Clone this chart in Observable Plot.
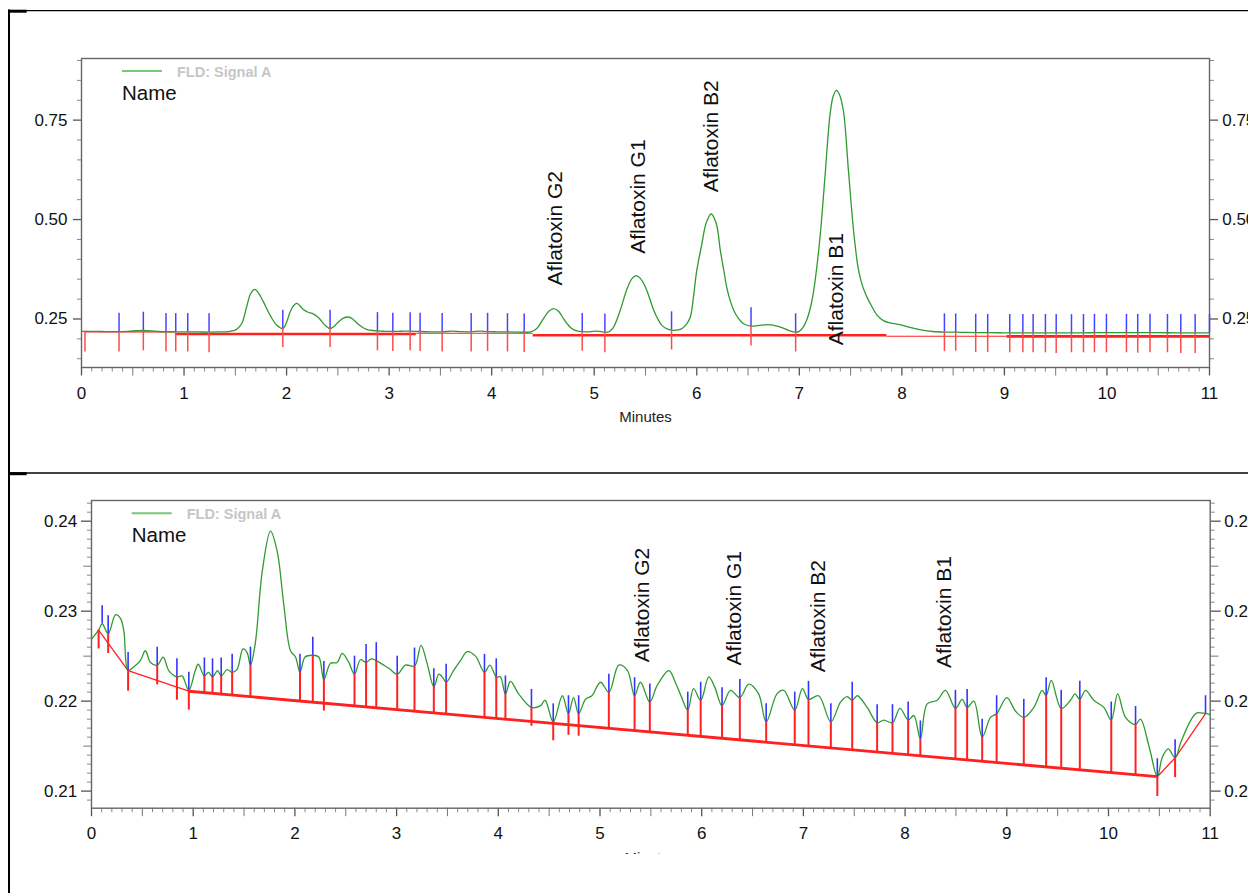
<!DOCTYPE html>
<html><head><meta charset="utf-8">
<script src="https://cdn.jsdelivr.net/npm/d3@7"></script>
<script src="https://cdn.jsdelivr.net/npm/@observablehq/plot@0.6"></script>
<style>
html,body{margin:0;padding:0;background:#fff;overflow:hidden;}
#wrap{position:relative;width:1248px;height:893px;overflow:hidden;background:#fff;font-family:"Liberation Sans",Arial,sans-serif;}
#top,#bot{position:absolute;left:0;}
#top{top:0;}
#bot{top:460px;height:394px;overflow:hidden;}
#wrap svg{max-width:none !important;}
#top svg{overflow:visible;}
#deco{position:absolute;left:0;top:0;pointer-events:none;}
</style></head>
<body><div id="wrap"><div id="top"></div><div id="bot"></div><svg id="deco" width="1248" height="893"></svg></div>
<script>
// ---------------- DATA ----------------
const peakNames = ["Aflatoxin G2", "Aflatoxin G1", "Aflatoxin B2", "Aflatoxin B1"];
const topLabelT = [4.62, 5.425, 6.14, 7.364];
const topLabelV = [0.3345, 0.414, 0.5685, 0.184];
const botLabelT = [5.42, 6.316, 7.146, 8.387];
const botLabelV = [0.22433, 0.22397, 0.22322, 0.22367];

// Top chromatogram (standard)
const topTime = [0.00,0.10,0.20,0.30,0.366,0.45,0.55,0.603,0.68,0.75,0.824,0.919,1.036,1.14,1.244,1.35,1.43,1.48,1.514,1.563,1.61,1.65,1.69,1.73,1.774,1.84,1.905,1.963,2.00,2.034,2.07,2.10,2.164,2.21,2.25,2.31,2.376,2.424,2.465,2.505,2.55,2.60,2.645,2.685,2.73,2.78,2.886,2.96,3.036,3.12,3.205,3.302,3.40,3.517,3.61,3.70,3.80,3.89,3.96,4.05,4.154,4.24,4.317,4.38,4.44,4.505,4.56,4.603,4.65,4.70,4.74,4.78,4.83,4.883,4.95,5.03,5.104,5.15,5.19,5.254,5.32,5.37,5.41,5.45,5.50,5.54,5.58,5.62,5.66,5.71,5.754,5.80,5.85,5.90,5.937,5.97,6.00,6.05,6.09,6.14,6.19,6.23,6.265,6.295,6.33,6.36,6.40,6.457,6.529,6.60,6.70,6.80,6.90,6.964,7.00,7.04,7.07,7.10,7.13,7.16,7.205,7.25,7.30,7.33,7.36,7.39,7.43,7.48,7.53,7.576,7.62,7.66,7.71,7.76,7.82,7.89,7.98,8.05,8.11,8.20,8.30,8.415,8.525,8.62,8.72,8.837,8.95,9.052,9.18,9.28,9.40,9.505,9.654,9.771,9.878,9.995,10.19,10.30,10.42,10.59,10.72,10.86,11.00];
const topSignal = [0.2190,0.2188,0.2185,0.2183,0.2182,0.2190,0.2205,0.2210,0.2200,0.2185,0.2177,0.2176,0.2176,0.2174,0.2172,0.2174,0.2182,0.2205,0.2240,0.2385,0.2800,0.3140,0.3245,0.3140,0.2930,0.2590,0.2340,0.2260,0.2420,0.2676,0.2840,0.2890,0.2740,0.2670,0.2640,0.2535,0.2340,0.2260,0.2320,0.2425,0.2515,0.2550,0.2500,0.2400,0.2310,0.2240,0.2200,0.2190,0.2186,0.2192,0.2195,0.2185,0.2178,0.2176,0.2195,0.2180,0.2177,0.2195,0.2182,0.2178,0.2174,0.2170,0.2166,0.2176,0.2260,0.2510,0.2700,0.2760,0.2700,0.2510,0.2370,0.2260,0.2200,0.2180,0.2178,0.2195,0.2165,0.2185,0.2300,0.2720,0.3260,0.3520,0.3590,0.3520,0.3300,0.3020,0.2720,0.2500,0.2340,0.2250,0.2220,0.2218,0.2250,0.2370,0.2550,0.3100,0.3720,0.4390,0.4900,0.5140,0.4900,0.4220,0.3700,0.3260,0.2930,0.2720,0.2540,0.2380,0.2320,0.2335,0.2360,0.2310,0.2210,0.2170,0.2190,0.2300,0.2460,0.2700,0.3050,0.3580,0.4640,0.6070,0.7650,0.8100,0.8250,0.8150,0.7730,0.6200,0.4700,0.3750,0.3300,0.3050,0.2800,0.2590,0.2460,0.2400,0.2360,0.2310,0.2270,0.2220,0.2185,0.2170,0.2168,0.2162,0.2158,0.2155,0.2154,0.2152,0.2152,0.2153,0.2152,0.2150,0.2150,0.2152,0.2156,0.2157,0.2156,0.2155,0.2157,0.2154,0.2152,0.2152,0.2152];
// peak delimiters (blue up, red down)
const topBlueT = [0.366,0.603,0.824,0.919,1.036,1.244,1.963,2.424,2.886,3.036,3.205,3.302,3.517,3.80,3.96,4.154,4.317,4.883,5.104,5.754,6.529,6.964,8.415,8.525,8.72,8.837,9.052,9.18,9.28,9.40,9.505,9.654,9.771,9.878,9.995,10.19,10.30,10.42,10.59,10.72,10.86,11.0];
const topBlueV = [0.2182,0.2210,0.2177,0.2176,0.2176,0.2172,0.2260,0.2260,0.2200,0.2186,0.2195,0.2185,0.2176,0.2177,0.2182,0.2174,0.2166,0.2180,0.2165,0.2220,0.2320,0.2170,0.2170,0.2168,0.2158,0.2155,0.2152,0.2152,0.2153,0.2152,0.2150,0.2150,0.2152,0.2156,0.2157,0.2156,0.2155,0.2157,0.2154,0.2152,0.2152,0.2152];
const topRedT = [0.034,0.366,0.603,0.824,0.919,1.036,1.244,1.963,2.424,2.886,3.036,3.205,3.302,3.517,3.80,3.96,4.154,4.317,4.883,5.104,5.754,6.529,6.964,8.415,8.525,8.72,8.837,9.052,9.18,9.28,9.40,9.505,9.654,9.771,9.878,9.995,10.19,10.30,10.42,10.59,10.72,10.86];
const topRedV = [0.2190,0.2182,0.2210,0.2177,0.2176,0.2176,0.2172,0.2260,0.2260,0.2200,0.2186,0.2195,0.2185,0.2176,0.2177,0.2182,0.2174,0.2166,0.2180,0.2165,0.2220,0.2320,0.2170,0.2170,0.2168,0.2158,0.2155,0.2152,0.2152,0.2153,0.2152,0.2150,0.2150,0.2152,0.2156,0.2157,0.2156,0.2155,0.2157,0.2154,0.2152,0.2152];
const topRedEnd = [0.167,0.167,0.170,0.167,0.167,0.167,0.165,0.178,0.178,0.170,0.168,0.170,0.168,0.167,0.167,0.168,0.167,0.166,0.169,0.165,0.172,0.182,0.167,0.168,0.169,0.166,0.166,0.165,0.165,0.165,0.165,0.163,0.165,0.165,0.165,0.165,0.165,0.164,0.165,0.165,0.163,0.163];
// baseline segments
const topBaseT1 = [0.034, 0.91, 3.26, 4.40, 7.85, 9.02];
const topBaseT2 = [0.91, 3.26, 4.40, 7.85, 9.02, 11.0];
const topBaseV  = [0.2174, 0.2124, 0.2141, 0.2091, 0.2066, 0.2062];

// Bottom chromatogram (blank, zoomed)
const botTime = [0.00,0.07,0.105,0.164,0.236,0.285,0.318,0.36,0.415,0.48,0.53,0.58,0.646,0.705,0.76,0.84,0.89,0.957,1.02,1.05,1.11,1.15,1.19,1.24,1.275,1.334,1.383,1.43,1.49,1.53,1.563,1.61,1.68,1.76,1.825,1.89,1.957,2.006,2.05,2.10,2.176,2.235,2.285,2.35,2.416,2.465,2.53,2.586,2.645,2.70,2.75,2.80,2.874,2.93,3.006,3.087,3.176,3.24,3.30,3.366,3.415,3.448,3.487,3.56,3.628,3.694,3.776,3.864,3.917,3.98,4.02,4.07,4.12,4.20,4.326,4.415,4.46,4.54,4.63,4.69,4.74,4.79,4.857,4.92,5.005,5.087,5.185,5.27,5.34,5.398,5.49,5.56,5.677,5.74,5.80,5.863,5.92,5.99,6.07,6.13,6.20,6.283,6.375,6.463,6.56,6.634,6.74,6.807,6.915,6.99,7.05,7.15,7.27,7.365,7.43,7.48,7.53,7.627,7.725,7.79,7.876,7.95,8.03,8.086,8.15,8.217,8.316,8.397,8.495,8.561,8.61,8.676,8.758,8.84,8.90,9.00,9.085,9.167,9.266,9.348,9.387,9.437,9.535,9.626,9.67,9.718,9.774,9.856,9.954,10.027,10.09,10.167,10.266,10.314,10.40,10.48,10.53,10.587,10.655,10.71,10.81,10.87,10.954,11.0];
const botSignal = [0.2269,0.2279,0.2286,0.2275,0.2296,0.2292,0.2278,0.2234,0.2238,0.2245,0.2256,0.2243,0.2240,0.2249,0.2234,0.2227,0.2228,0.2212,0.2234,0.2241,0.2228,0.2232,0.2227,0.2234,0.2228,0.2235,0.2232,0.2235,0.2258,0.2254,0.2240,0.2264,0.2345,0.2389,0.2367,0.2308,0.2256,0.2249,0.2232,0.2249,0.2251,0.2249,0.2224,0.2242,0.2243,0.2253,0.2243,0.2230,0.2246,0.2243,0.2247,0.2245,0.2240,0.2236,0.2230,0.2240,0.2239,0.2262,0.2242,0.2216,0.2230,0.2227,0.2221,0.2234,0.2245,0.2255,0.2250,0.2232,0.2240,0.2227,0.2227,0.2208,0.2222,0.2208,0.2193,0.2195,0.2201,0.2177,0.2206,0.2186,0.2204,0.2186,0.2202,0.2206,0.2221,0.2210,0.2240,0.2234,0.2206,0.2221,0.2199,0.2217,0.2234,0.2221,0.2205,0.2190,0.2214,0.2201,0.2227,0.2215,0.2195,0.2212,0.2204,0.2219,0.2208,0.2177,0.2208,0.2212,0.2190,0.2214,0.2202,0.2206,0.2177,0.2199,0.2205,0.2201,0.2206,0.2193,0.2176,0.2179,0.2176,0.2192,0.2179,0.2184,0.2158,0.2197,0.2201,0.2212,0.2192,0.2202,0.2193,0.2200,0.2160,0.2182,0.2186,0.2204,0.2189,0.2182,0.2193,0.2212,0.2206,0.2223,0.2192,0.2201,0.2208,0.2202,0.2212,0.2201,0.2193,0.2179,0.2208,0.2182,0.2174,0.2180,0.2149,0.2116,0.2138,0.2147,0.2137,0.2154,0.2179,0.2187,0.2186,0.2185];
const botBlueT = [0.105,0.164,0.36,0.646,0.84,0.957,1.11,1.19,1.275,1.383,1.563,2.05,2.176,2.285,2.586,2.70,2.80,3.006,3.176,3.366,3.487,3.864,3.98,4.07,4.326,4.54,4.69,4.79,5.087,5.34,5.49,5.863,5.99,6.20,6.375,6.634,6.915,7.05,7.27,7.48,7.725,7.876,8.03,8.15,8.495,8.61,8.758,8.90,9.167,9.387,9.535,9.718,10.027,10.266,10.48,10.655,10.954];
const botBlueV = [0.2286,0.2275,0.2234,0.2240,0.2227,0.2212,0.2228,0.2227,0.2228,0.2232,0.2240,0.2232,0.2251,0.2224,0.2230,0.2243,0.2245,0.2230,0.2239,0.2216,0.2221,0.2232,0.2227,0.2208,0.2193,0.2177,0.2186,0.2186,0.2210,0.2206,0.2199,0.2190,0.2201,0.2195,0.2204,0.2177,0.2190,0.2202,0.2177,0.2201,0.2176,0.2176,0.2179,0.2158,0.2192,0.2193,0.2160,0.2186,0.2182,0.2206,0.2192,0.2202,0.2179,0.2174,0.2116,0.2137,0.2186];
const botRedT = [0.07,0.164,0.36,0.646,0.84,0.957,1.11,1.19,1.275,1.383,1.563,2.05,2.176,2.285,2.586,2.70,2.80,3.006,3.176,3.366,3.487,3.864,3.98,4.07,4.326,4.54,4.69,4.79,5.087,5.34,5.49,5.863,5.99,6.20,6.375,6.634,6.915,7.05,7.27,7.48,7.725,7.876,8.03,8.15,8.495,8.61,8.758,8.90,9.167,9.387,9.535,9.718,10.027,10.266,10.48,10.655];
const botRedV = [0.2279,0.2275,0.2234,0.2240,0.2227,0.2212,0.2228,0.2227,0.2228,0.2232,0.2240,0.2232,0.2251,0.2224,0.2230,0.2243,0.2245,0.2230,0.2239,0.2216,0.2221,0.2232,0.2227,0.2208,0.2193,0.2177,0.2186,0.2186,0.2210,0.2206,0.2199,0.2190,0.2201,0.2195,0.2204,0.2177,0.2190,0.2202,0.2177,0.2201,0.2176,0.2176,0.2179,0.2158,0.2192,0.2193,0.2160,0.2186,0.2182,0.2206,0.2192,0.2202,0.2179,0.2174,0.2116,0.2137];
// red drop end (null = on the baseline)
const botRedEnd = [0.2258,0.2253,0.2211,0.2218,0.2201,0.2190,null,null,null,null,null,null,null,0.2189,null,null,null,null,null,null,null,null,null,null,0.2172,0.2156,0.2162,0.2161,null,null,null,null,null,null,null,null,null,null,null,null,null,null,null,null,null,null,null,null,null,null,null,null,null,null,0.2094,0.2115];
const botBaseT = [0.07, 0.36, 0.957, 10.48, 10.655, 10.954];
const botBaseV = [0.2279, 0.2234, 0.2211, 0.2116, 0.2137, 0.2186];

const xMajor = d3.range(0, 12);
const xHalf = d3.range(0, 11).map(i => i + 0.5);
const xMinor = d3.range(0, 111).filter(i => i % 5 !== 0).map(i => i / 10);
const topYMajor = [0.25, 0.50, 0.75];
const topYMinor = [0.15, 0.20, 0.30, 0.35, 0.40, 0.45, 0.55, 0.60, 0.65, 0.70, 0.80, 0.85, 0.90];
const botYMajor = [0.21, 0.22, 0.23, 0.24];
const botYHalf = [0.215, 0.225, 0.235];
const botYMinor = d3.range(209, 243).filter(i => i % 5 !== 0).map(i => i / 1000);

// ---------------- DRAW ----------------
const FONT = "Liberation Sans, Arial, sans-serif";
const GREEN = "#2f9a2f", BLUE = "#3434ff", RED = "#ff2020", AX = "#555";
const zip = (a, b) => a.map((t, i) => ({t, v: b[i]}));

function xAxes(minutes) {
  return [
    Plot.axisX({anchor: "bottom", ticks: xMajor, tickSize: 8.5, tickPadding: 10.5, tickFormat: d3.format("d"), fontSize: 17, stroke: AX, strokeWidth: 1.3, label: null}),
    Plot.axisX({anchor: "bottom", ticks: xHalf, tickSize: 8.5, fill: "none", stroke: "#777", label: null}),
    Plot.axisX({anchor: "bottom", ticks: xMinor, tickSize: 4.5, fill: "none", stroke: "#888", label: null}),
    Plot.text([minutes], {frameAnchor: "bottom", dy: 44, lineAnchor: "top", fontSize: 15, fill: "#222"})
  ];
}

function yAxes(major, half, minor, majLen, halfLen, padL, padR, fmt) {
  const out = [];
  for (const anchor of ["left", "right"]) {
    out.push(Plot.axisY({anchor, ticks: major, tickSize: majLen, tickPadding: anchor === "left" ? padL : padR, tickFormat: fmt, fontSize: 17, stroke: AX, strokeWidth: 1.3, label: null}));
    if (half.length) out.push(Plot.axisY({anchor, ticks: half, tickSize: halfLen, fill: "none", stroke: "#777", label: null}));
    out.push(Plot.axisY({anchor, ticks: minor, tickSize: 4, fill: "none", stroke: "#888", label: null}));
  }
  return out;
}

// top chart
const topSig = zip(topTime, topSignal);
const topBlue = zip(topBlueT, topBlueV);
const topRed = topRedT.map((t, i) => ({t, v: topRedV[i], e: topRedEnd[i]}));
const topBase = topBaseT1.map((t, i) => ({t1: t, t2: topBaseT2[i], v: topBaseV[i], thick: i % 2 === 1}));
const topLabels = peakNames.map((n, i) => ({n, t: topLabelT[i], v: topLabelV[i]}));

const topPlot = Plot.plot({
  width: 1300, height: 427,
  marginLeft: 81, marginRight: 91, marginTop: 58, marginBottom: 60,
  x: {domain: [0, 11]},
  y: {domain: [0.128, 0.905]},
  style: {fontFamily: FONT, background: "transparent", color: "#111"},
  marks: [
    ...yAxes(topYMajor, [], topYMinor, 8, 0, 6, 4.7, d3.format(".2f")),
    ...xAxes("Minutes"),
    Plot.frame({stroke: "#666", strokeWidth: 1.4}),
    Plot.link(topBase.filter(d => !d.thick), {x1: "t1", x2: "t2", y1: "v", y2: "v", stroke: RED, strokeWidth: 1.2}),
    Plot.link(topBase.filter(d => d.thick), {x1: "t1", x2: "t2", y1: "v", y2: "v", stroke: RED, strokeWidth: 2.6}),
    Plot.line(topSig, {x: "t", y: "v", stroke: GREEN, strokeWidth: 1.3, curve: "catmull-rom"}),
    Plot.ruleX(topRed, {x: "t", y1: "v", y2: "e", stroke: "#ff4a4a", strokeWidth: 1.5}),
    Plot.ruleX(topBlue, {x: "t", y1: "v", y2: d => d.v + 0.046, stroke: "#4545ff", strokeWidth: 1.5}),
    Plot.text(topLabels, {x: "t", y: "v", text: "n", rotate: -90, textAnchor: "start", fontSize: 21, fill: "#111"})
  ]
});
document.getElementById("top").append(topPlot);

// bottom chart
const botSig = zip(botTime, botSignal);
const baseAt = t => {
  for (let i = 0; i < botBaseT.length - 1; i++) {
    if (t >= botBaseT[i] && t <= botBaseT[i + 1]) {
      const f = (t - botBaseT[i]) / (botBaseT[i + 1] - botBaseT[i]);
      return botBaseV[i] + f * (botBaseV[i + 1] - botBaseV[i]);
    }
  }
  return botBaseV[botBaseV.length - 1];
};
const botBlue = zip(botBlueT, botBlueV);
const botRed = botRedT.map((t, i) => ({t, v: botRedV[i], e: botRedEnd[i] == null ? baseAt(t) : botRedEnd[i]}));
const botBase = botBaseT.slice(0, -1).map((t, i) => ({t1: t, t2: botBaseT[i + 1], v1: botBaseV[i], v2: botBaseV[i + 1], thick: i === 2}));
const botLabels = peakNames.map((n, i) => ({n, t: botLabelT[i], v: botLabelV[i]}));

const botPlot = Plot.plot({
  width: 1300, height: 394,
  marginLeft: 91, marginRight: 90.3, marginTop: 40, marginBottom: 46.3,
  x: {domain: [0, 11]},
  y: {domain: [0.2081, 0.2423]},
  style: {fontFamily: FONT, background: "transparent", color: "#111"},
  marks: [
    ...yAxes(botYMajor, botYHalf, botYMinor, 10, 7.7, 4.3, 4, d3.format(".2f")),
    ...xAxes("Minutes"),
    Plot.frame({stroke: "#666", strokeWidth: 1.4}),
    Plot.link(botBase.filter(d => !d.thick), {x1: "t1", x2: "t2", y1: "v1", y2: "v2", stroke: RED, strokeWidth: 1.3}),
    Plot.link(botBase.filter(d => d.thick), {x1: "t1", x2: "t2", y1: "v1", y2: "v2", stroke: RED, strokeWidth: 2.8}),
    Plot.line(botSig, {x: "t", y: "v", stroke: GREEN, strokeWidth: 1.3, curve: "catmull-rom"}),
    Plot.ruleX(botRed, {x: "t", y1: "v", y2: "e", stroke: RED, strokeWidth: 2}),
    Plot.ruleX(botBlue, {x: "t", y1: "v", y2: d => d.v + 0.002, stroke: BLUE, strokeWidth: 1.6}),
    Plot.text(botLabels, {x: "t", y: "v", text: "n", rotate: -90, textAnchor: "start", fontSize: 21, fill: "#111"})
  ]
});
document.getElementById("bot").append(botPlot);

// ---------------- decorations: outer frame, legends ----------------
const deco = d3.select("#deco");
deco.append("line").attr("x1", 9).attr("y1", 9.5).attr("x2", 9).attr("y2", 893).attr("stroke", "#000").attr("stroke-width", 2);
deco.append("line").attr("x1", 8).attr("y1", 10.6).attr("x2", 1248).attr("y2", 10.6).attr("stroke", "#000").attr("stroke-width", 1.3);
deco.append("rect").attr("x", 8).attr("y", 9.7).attr("width", 18.7).attr("height", 3).attr("fill", "#000");
deco.append("line").attr("x1", 8).attr("y1", 473).attr("x2", 1248).attr("y2", 473).attr("stroke", "#000").attr("stroke-width", 1.5);
deco.append("rect").attr("x", 8).attr("y", 472.2).attr("width", 18.7).attr("height", 3).attr("fill", "#000");

function legend(x, y, nameY) {
  deco.append("line").attr("x1", x).attr("y1", y).attr("x2", x + 40).attr("y2", y).attr("stroke", "#78c678").attr("stroke-width", 2);
  deco.append("text").attr("x", x + 55).attr("y", y + 5.5).attr("font-family", FONT).attr("font-size", 14.5).attr("font-weight", "bold").attr("fill", "#c6c6c6").text("FLD: Signal A");
  deco.append("text").attr("x", x).attr("y", nameY).attr("font-family", FONT).attr("font-size", 20.5).attr("fill", "#111").text("Name");
}
legend(122, 71, 100);
legend(131.7, 513.3, 541.5);
</script>
</body></html>
